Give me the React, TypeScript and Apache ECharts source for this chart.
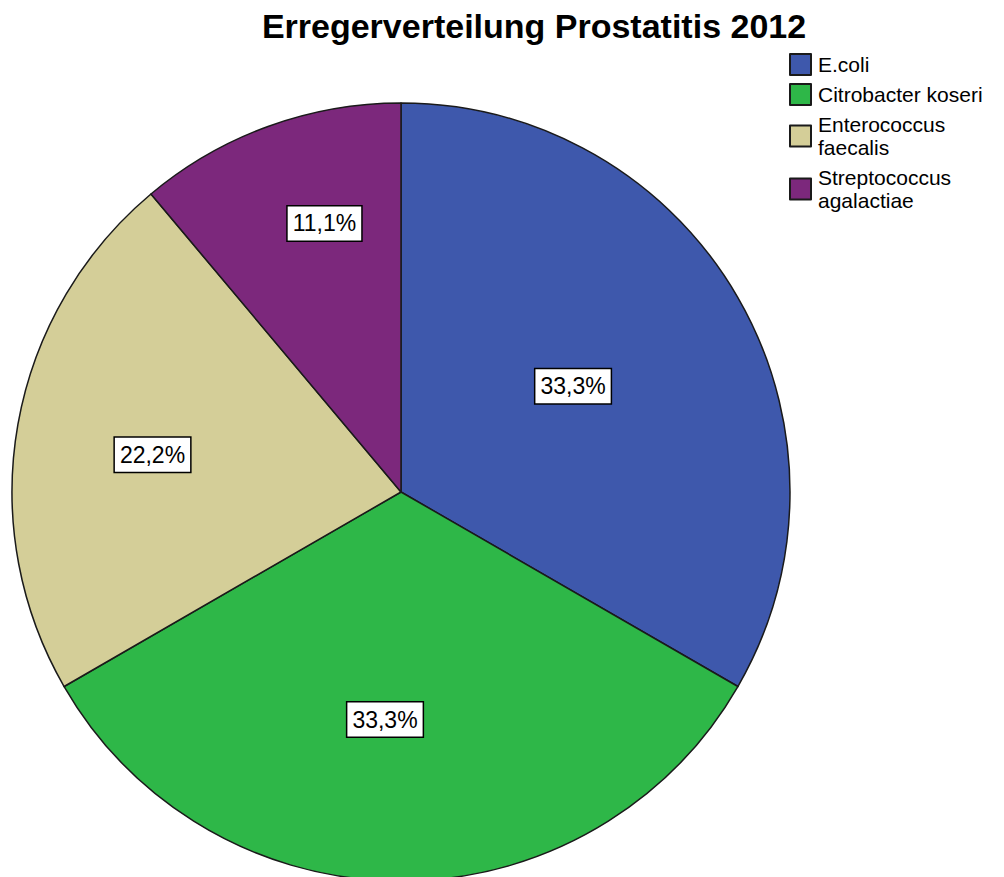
import React, { useEffect, useRef } from "react";
import * as echarts from "echarts";

const categories = ["E.coli", "Citrobacter koseri", "Enterococcus faecalis", "Streptococcus agalactiae"];
const counts = [3, 3, 2, 1];
const legendLabels: Record<string, string> = {
  "E.coli": "E.coli",
  "Citrobacter koseri": "Citrobacter koseri",
  "Enterococcus faecalis": "Enterococcus\nfaecalis",
  "Streptococcus agalactiae": "Streptococcus\nagalactiae",
};
const colors = ["#3E58AC", "#2EB748", "#D4CE98", "#7C287C"];
const labelOffsets = [[1, -7], [-16, 30], [-54, -3], [-9, -83]];

export default function App() {
  const ref = useRef<HTMLDivElement>(null);
  useEffect(() => {
    const chart = echarts.init(ref.current!, undefined, { renderer: "svg" });
    const font = "'Liberation Sans', Arial, sans-serif";
    chart.setOption({
      animation: false,
      backgroundColor: "#ffffff",
      color: colors,
      title: {
        text: "Erregerverteilung Prostatitis 2012",
        left: 529,
        textAlign: "center",
        top: 4,
        textStyle: { fontFamily: font, fontSize: 34, fontWeight: "bold", color: "#000" },
      },
      legend: {
        orient: "vertical",
        left: 784,
        top: 48,
        itemWidth: 21,
        itemHeight: 21,
        itemGap: 7,
        icon: "rect",
        selectedMode: false,
        formatter: (name: string) => legendLabels[name] ?? name,
        textStyle: { fontFamily: font, fontSize: 21, lineHeight: 23, color: "#000", padding: [0, 0, 0, 2] },
        data: categories,
      },
      series: [
        {
          type: "pie",
          center: [401, 492],
          radius: 389,
          startAngle: 90,
          clockwise: true,
          avoidLabelOverlap: false,
          itemStyle: { borderColor: "#1a1a1a", borderWidth: 1.5 },
          emphasis: { disabled: true },
          label: {
            show: true,
            position: "inside",
            formatter: (p: any) => p.percent.toFixed(1).replace(".", ",") + "%",
            fontFamily: font,
            fontSize: 23,
            color: "#000",
            backgroundColor: "#fff",
            borderColor: "#000",
            borderWidth: 1.5,
            padding: [6, 5, 5, 5],
          },
          labelLine: { show: false },
          data: categories.map((name, i) => ({
            name,
            value: counts[i],
            label: { offset: labelOffsets[i] },
          })),
        },
      ],
    });
    return () => chart.dispose();
  }, []);
  return <div ref={ref} style={{ position: "fixed", left: 0, top: 0, width: 1004, height: 877 }} />;
}
